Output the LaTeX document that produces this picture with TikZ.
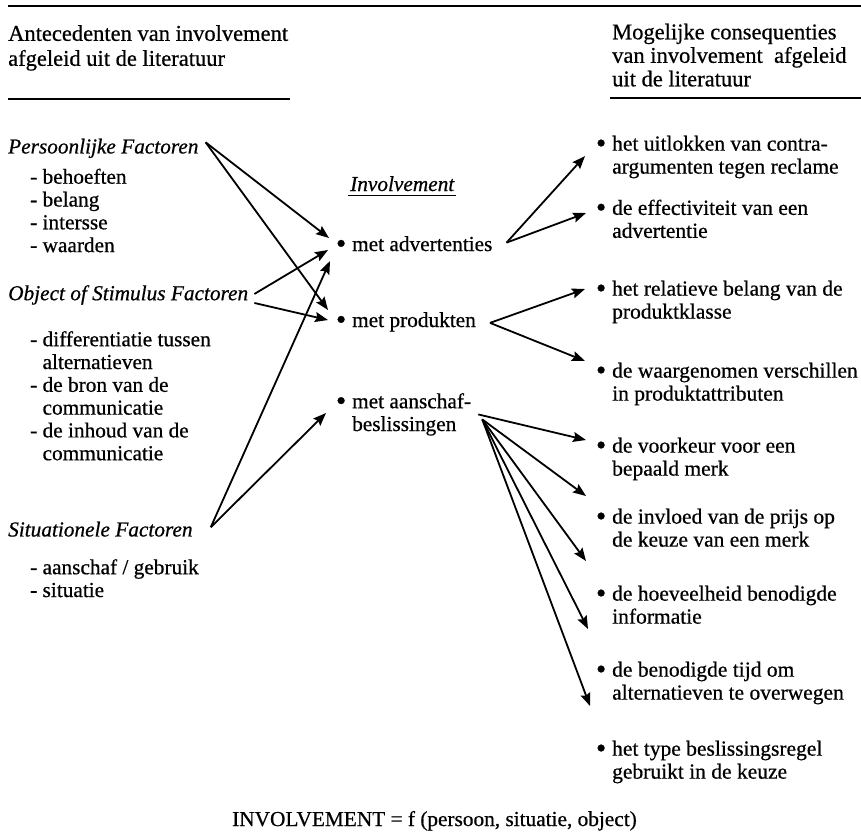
\documentclass[tikz,border=0pt]{standalone}
\usepackage{fontspec}
\setmainfont{Liberation Serif}[FakeBold=0.6]
\usetikzlibrary{arrows.meta}
\newcommand{\mybul}{\llap{\raisebox{-2pt}{\fontsize{29}{29}\selectfont\textbullet}\hspace{6pt}}}
\begin{document}
\begin{tikzpicture}[x=1pt,y=-1pt,
  txt/.style={font=\fontsize{21.3}{22.8}\selectfont, inner sep=0pt, anchor=north west, align=left},
  rtxt/.style={txt, font=\fontsize{21.5}{23}\selectfont},
  ital/.style={txt, font=\fontsize{21.3}{22.8}\selectfont\itshape},
  headl/.style={txt, font=\fontsize{22.5}{25}\selectfont},
  headr/.style={txt, font=\fontsize{22.5}{23.5}\selectfont},
  arr/.style={line width=1.8pt, -{Stealth[length=13pt,width=10pt,inset=2pt]}},
  rulel/.style={line width=2.6pt}
]
\useasboundingbox (0,0) rectangle (861,836);
\fill[white] (0,0) rectangle (861,836);

% rules
\coordinate (r0a) at (8,6);
\coordinate (r0b) at (861,6);
\draw[rulel] (r0a) -- (r0b);
\coordinate (r1a) at (8,99);
\coordinate (r1b) at (290,99);
\draw[rulel] (r1a) -- (r1b);
\coordinate (r2a) at (610,98);
\coordinate (r2b) at (861,98);
\draw[rulel] (r2a) -- (r2b);

% headings
\node[headl] (hl) at (8,25) {Antecedenten van involvement\\afgeleid uit de literatuur};
\node[headr] (hr) at (612,23.5) {Mogelijke consequenties\\van involvement\ \ afgeleid\\uit de literatuur};

% left column
\node[ital] (pf) at (8,138.5) {Persoonlijke Factoren};
\node[txt] (pfl) at (30,168.5) {- behoeften\\- belang\\- intersse\\- waarden};
\node[ital] (of) at (8,285) {Object of Stimulus Factoren};
\node[txt] (ofl) at (30,331) {- differentiatie tussen\\\phantom{- }alternatieven\\- de bron van de\\\phantom{- }communicatie\\- de inhoud van de\\\phantom{- }communicatie};
\node[ital] (sf) at (8,521.5) {Situationele Factoren};
\node[txt] (sfl) at (30,559) {- aanschaf / gebruik\\- situatie};

% middle
\node[ital, anchor=base west] (inv) at (350,191) {Involvement};
\draw[line width=1.5pt] ([yshift=-4.5pt,xshift=-2pt]inv.base west) -- ([yshift=-4.5pt,xshift=2pt]inv.base east);
\node[txt, anchor=base west] (ma) at (352,251) {\mybul met advertenties};
\node[txt, anchor=base west] (mp) at (352,327) {\mybul met produkten};
\node[txt] (mb) at (352,393) {\mybul met aanschaf-\\beslissingen};

% right column
\node[rtxt] (c1) at (612,135.5) {\mybul het uitlokken van contra-\\argumenten tegen reclame};
\node[rtxt] (c2) at (612,199.5) {\mybul de effectiviteit van een\\advertentie};
\node[rtxt] (c3) at (612,280.5) {\mybul het relatieve belang van de\\produktklasse};
\node[rtxt] (c4) at (612,362.5) {\mybul de waargenomen verschillen\\in produktattributen};
\node[rtxt] (c5) at (612,437.5) {\mybul de voorkeur voor een\\bepaald merk};
\node[rtxt] (c6) at (612,508.5) {\mybul de invloed van de prijs op\\de keuze van een merk};
\node[rtxt] (c7) at (612,585.5) {\mybul de hoeveelheid benodigde\\informatie};
\node[rtxt] (c8) at (612,661.5) {\mybul de benodigde tijd om\\alternatieven te overwegen};
\node[rtxt] (c9) at (612,740.5) {\mybul het type beslissingsregel\\gebruikt in de keuze};

% formula
\node[txt, anchor=base west] (form) at (232,826) {INVOLVEMENT = f (persoon, situatie, object)};

% arrow tips
\coordinate (tP1) at (329,238);
\coordinate (tO1) at (328,250);
\coordinate (tS1) at (330,261);
\coordinate (tP2) at (328,310);
\coordinate (tO2) at (328,320);
\coordinate (tS2) at (326,413);
\coordinate (tA1) at (585,156);
\coordinate (tA2) at (586,213);
\coordinate (tM1) at (585,289);
\coordinate (tM2) at (585,361);
\coordinate (tB1) at (586,440);
\coordinate (tB2) at (586,496);
\coordinate (tB3) at (586,561);
\coordinate (tB4) at (588,629);
\coordinate (tB5) at (590,706);

% arrows left -> middle
\draw[arr] ([xshift=7pt,yshift=6pt]pf.east) -- (tP1);
\draw[arr] ([xshift=7pt,yshift=6pt]pf.east) -- (tP2);
\draw[arr] ([xshift=6pt,yshift=1pt]of.east) -- (tO1);
\draw[arr] ([xshift=6pt,yshift=-8pt]of.east) -- (tO2);
\draw[arr] ([xshift=18pt,yshift=2pt]sf.east) -- (tS1);
\draw[arr] ([xshift=18pt,yshift=2pt]sf.east) -- (tS2);

% arrows middle -> right
\draw[arr] ([xshift=14pt,yshift=2pt]ma.east) -- (tA1);
\draw[arr] ([xshift=14pt,yshift=2pt]ma.east) -- (tA2);
\draw[arr] ([xshift=14pt,yshift=-1pt]mp.east) -- (tM1);
\draw[arr] ([xshift=14pt,yshift=-1pt]mp.east) -- (tM2);
\draw[arr] ([xshift=7pt]mb.east) -- (tB1);
\draw[arr] ([xshift=11pt,yshift=-5pt]mb.east) -- (tB2);
\draw[arr] ([xshift=11pt,yshift=-5pt]mb.east) -- (tB3);
\draw[arr] ([xshift=11pt,yshift=-5pt]mb.east) -- (tB4);
\draw[arr] ([xshift=11pt,yshift=-5pt]mb.east) -- (tB5);
\end{tikzpicture}
\end{document}
